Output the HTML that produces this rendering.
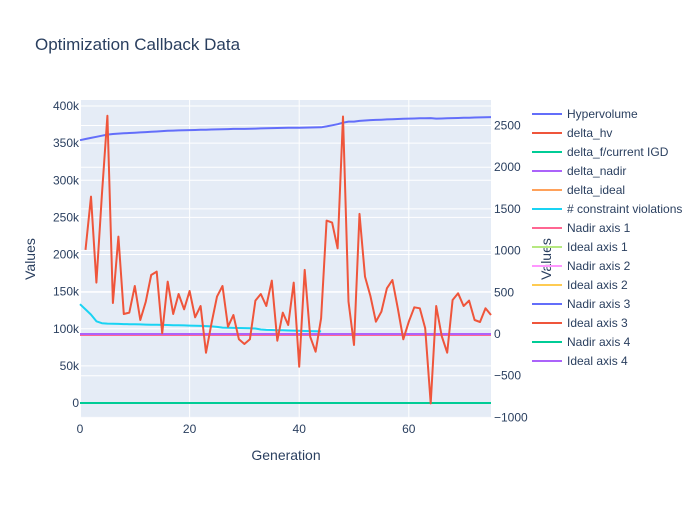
<!DOCTYPE html>
<html><head><meta charset="utf-8"><style>
body{margin:0;background:#fff;font-family:"Liberation Sans",Arial,sans-serif;}
svg text{font-family:"Liberation Sans",Arial,sans-serif;}
</style></head><body>
<svg id="chart" width="700" height="500" xmlns="http://www.w3.org/2000/svg">
<rect width="700" height="500" fill="#fff"/>
<rect x="80" y="100" width="411" height="318" fill="#e5ecf6"/>
<g id="grid"></g>
<g id="series"></g>
<g id="axes"></g>
<text x="35" y="50" font-size="17" fill="#2a3f5f">Optimization Callback Data</text>
<text x="286" y="460" font-size="14" fill="#2a3f5f" text-anchor="middle">Generation</text>
<text transform="translate(35,259) rotate(-90)" font-size="14" fill="#2a3f5f" text-anchor="middle">Values</text>
<text transform="translate(551,259) rotate(-90)" font-size="14" fill="#2a3f5f" text-anchor="middle">Values</text>
<g id="legend"></g>
</svg>
<script>
const generations = Array.from({length:76},(_,i)=>i);
const hypervolume = [354000,355500,357000,358500,360000,361500,362300,362800,363200,363600,364000,364400,364800,365200,365600,366200,366600,366900,367100,367300,367500,367700,367900,368100,368300,368500,368700,368900,369100,369200,369200,369400,369600,369800,370100,370300,370400,370500,370600,370700,370800,370900,371000,371200,371300,372500,374000,375500,377500,379000,379000,380000,380500,381000,381300,381600,381900,382200,382500,382800,383000,383200,383400,383500,383700,383000,383200,383500,383700,383900,384100,384300,384500,384700,384900,385000];
const deltaHv = [null,1008,1647,616,1670,2616,372,1168,240,256,576,168,388,708,748,8,628,240,480,296,516,200,336,-224,128,448,576,88,228,-64,-120,-64,400,480,336,640,-80,256,108,616,-392,768,-32,-212,188,1360,1336,1028,2608,388,-132,1440,688,456,148,268,548,648,308,-64,148,320,308,68,-832,336,-24,-224,408,488,336,400,168,144,308,228];
const constraintViolations = [133000,126000,119000,110000,107500,107000,106800,106500,106300,106100,106000,105800,105600,105500,105300,105200,105000,104800,104700,104500,104300,104100,103900,103600,103200,102500,101600,101300,101100,101000,100900,100700,100300,99000,98500,98300,98100,97900,97700,97500,97200,97000,96800,96600,96400];
const deltaF = generations.map(()=>0);
const deltaNadir = generations.map(()=>0);
const leftTicks = [0,50000,100000,150000,200000,250000,300000,350000,400000];
const leftTickLabels = ["0","50k","100k","150k","200k","250k","300k","350k","400k"];
const rightTicks = [-1000,-500,0,500,1000,1500,2000,2500];
const rightTickLabels = ["−1000","−500","0","500","1000","1500","2000","2500"];
const xTicks = [0,20,40,60];
const legendNames = ["Hypervolume","delta_hv","delta_f/current IGD","delta_nadir","delta_ideal","# constraint violations","Nadir axis 1","Ideal axis 1","Nadir axis 2","Ideal axis 2","Nadir axis 3","Ideal axis 3","Nadir axis 4","Ideal axis 4"];
const legendColors = ["#636efa","#ef553b","#00cc96","#ab63fa","#ffa15a","#19d3f3","#ff6692","#b6e880","#ff97ff","#fecb52","#636efa","#ef553b","#00cc96","#ab63fa"];

const NS="http://www.w3.org/2000/svg";
const X0=80,X1=491;
function xs(v){return X0+(v-0)/75*(X1-X0);}
function yl(v){return 403-v/100000*74.25;}
function yr(v){return 334-v/500*41.7;}
function mk(tag,attrs,parent){const e=document.createElementNS(NS,tag);for(const k in attrs)e.setAttribute(k,attrs[k]);parent.appendChild(e);return e;}
const grid=document.getElementById('grid'),series=document.getElementById('series'),axes=document.getElementById('axes'),legend=document.getElementById('legend');

leftTicks.forEach((t,i)=>{
  const y=yl(t);
  const l=mk('line',{x1:X0,x2:X1,y1:y,y2:y,stroke:'#fff','stroke-width':t===0?2:1},grid);
  
  
  const tx=mk('text',{x:79,y:y+4,'font-size':12,fill:'#2a3f5f','text-anchor':'end'},axes);
  tx.textContent=leftTickLabels[i];
  
  
});
rightTicks.forEach((t,i)=>{
  const y=yr(t);
  const l=mk('line',{x1:X0,x2:X1,y1:y,y2:y,stroke:'#fff','stroke-width':t===0?2:1},grid);
  
  
  const tx=mk('text',{x:494,y:y+4,'font-size':12,fill:'#2a3f5f','text-anchor':'start'},axes);
  tx.textContent=rightTickLabels[i];
  
  
});
xTicks.forEach(t=>{
  const x=xs(t);
  const l=mk('line',{x1:x,x2:x,y1:100,y2:418,stroke:'#fff','stroke-width':t===0?2:1},grid);
  
  
  const tx=mk('text',{x:x,y:433,'font-size':12,fill:'#2a3f5f','text-anchor':'middle'},axes);
  tx.textContent=String(t);
  
  
});

function line(vals,yf,color,name){
  let d='';let pen=false;
  vals.forEach((v,i)=>{if(v===null||v===undefined){pen=false;return;}d+=(pen?'L':'M')+xs(generations[i]).toFixed(1)+','+yf(v).toFixed(1);pen=true;});
  const p=mk('path',{d:d,fill:'none',stroke:color,'stroke-width':2,'stroke-linejoin':'round'},series);
  
  
}
line(deltaF,yl,'#00cc96','delta-f-line');
line(deltaNadir.map(v=>v-12),yr,'#ff6692','nadir-axis-line');
line(deltaNadir,yr,'#ab63fa','delta-nadir-line');
line(constraintViolations,yl,'#19d3f3','constraint-violations-line');
line(hypervolume,yl,'#636efa','hypervolume-line');
line(deltaHv,yr,'#ef553b','delta-hv-line');

legendNames.forEach((n,i)=>{
  const y=114+i*19;
  const g=mk('g',{},legend);
  
  
  mk('line',{x1:532,x2:562,y1:y,y2:y,stroke:legendColors[i],'stroke-width':2},g);
  const t=mk('text',{x:567,y:y+4,'font-size':12,fill:'#2a3f5f'},g);
  t.textContent=n;
});
</script>
</body></html>
